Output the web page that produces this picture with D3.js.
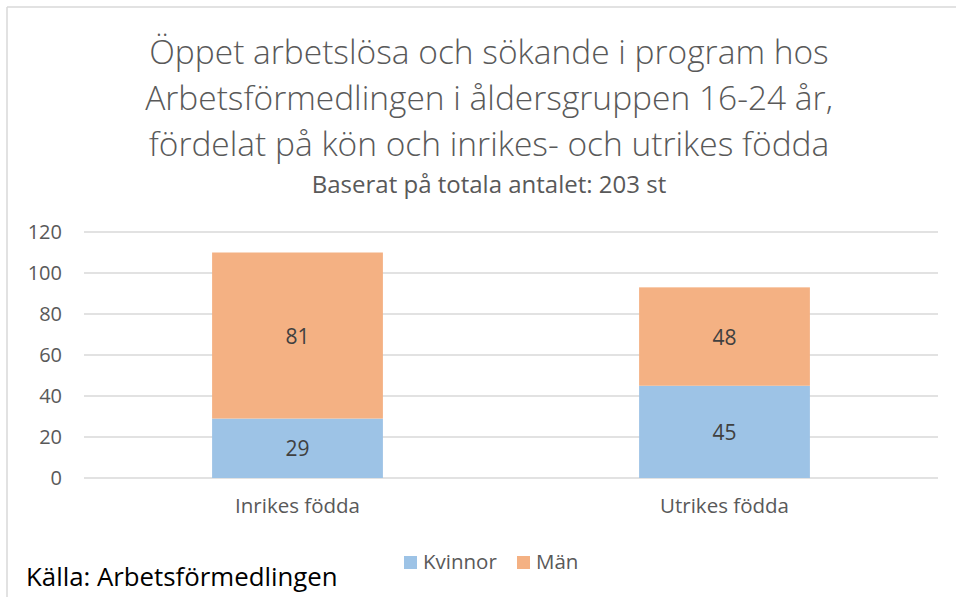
<!DOCTYPE html>
<html><head><meta charset="utf-8">
<script src="https://cdn.jsdelivr.net/npm/d3@7"></script>
<style>body{margin:0;background:#fff}svg{display:block}</style>
</head><body>
<script>
const categories = ["Inrikes födda", "Utrikes födda"];
const seriesNames = ["Kvinnor", "Män"];
const kvinnor = [29, 45];
const man = [81, 48];
const yTicks = [0, 20, 40, 60, 80, 100, 120];
const titleLines = ["Öppet arbetslösa och sökande i program hos", "Arbetsförmedlingen i åldersgruppen 16-24 år,", "fördelat på kön och inrikes- och utrikes födda"];
const subtitle = "Baserat på totala antalet: 203 st";
const source = "Källa: Arbetsförmedlingen";
const colors = ["#9DC3E6", "#F4B183"];

const W = 956, H = 597;
const svg = d3.select("body").append("svg").attr("width", W).attr("height", H);
const font = "'Open Sans', 'Liberation Sans', sans-serif";

// frame
svg.append("line").attr("x1", 7).attr("x2", W).attr("y1", 7).attr("y2", 7).attr("stroke", "#d9d9d9").attr("stroke-width", 1.5);
svg.append("line").attr("x1", 7).attr("x2", 7).attr("y1", 7).attr("y2", H).attr("stroke", "#d9d9d9").attr("stroke-width", 1.5);

// title
svg.append("g").selectAll("text").data(titleLines).join("text")
  .attr("x", 489).attr("y", (d, i) => 64 + i * 46)
  .attr("text-anchor", "middle").attr("font-family", font).attr("font-weight", 300)
  .attr("font-size", 33.5).attr("fill", "#595959").text(d => d);
svg.append("text").attr("x", 489).attr("y", 193).attr("text-anchor", "middle")
  .attr("font-family", font).attr("font-size", 24).attr("fill", "#595959").text(subtitle);

const x = d3.scaleBand().domain(categories).range([84, 938]).paddingInner(0.6).paddingOuter(0.3);
const y = d3.scaleLinear().domain([0, 120]).range([478, 232]);

// grid
svg.append("g").selectAll("line").data(yTicks).join("line")
  .attr("x1", 84).attr("x2", 938).attr("y1", d => y(d)).attr("y2", d => y(d))
  .attr("stroke", "#d9d9d9").attr("stroke-width", 1.3);

// y axis
const yAxis = svg.append("g").attr("transform", "translate(84,0)")
  .call(d3.axisLeft(y).tickValues(yTicks).tickSize(0).tickPadding(22));
yAxis.select(".domain").remove();
yAxis.selectAll("text").attr("font-family", font).attr("font-size", 20).attr("fill", "#595959");

// x axis
const xAxis = svg.append("g").attr("transform", "translate(0,478)")
  .call(d3.axisBottom(x).tickSize(0).tickPadding(20));
xAxis.select(".domain").remove();
xAxis.selectAll("text").attr("font-family", font).attr("font-size", 20.5).attr("fill", "#595959");

// stacked data
const rows = categories.map((c, i) => ({cat: c, Kvinnor: kvinnor[i], "Män": man[i]}));
const stack = d3.stack().keys(seriesNames)(rows);
const g = svg.append("g");
stack.forEach((s, si) => {
  g.append("g").selectAll("rect").data(s).join("rect")
    .attr("x", d => x(d.data.cat)).attr("width", x.bandwidth())
    .attr("y", d => y(d[1])).attr("height", d => y(d[0]) - y(d[1]))
    .attr("fill", colors[si]);
  g.append("g").selectAll("text").data(s).join("text")
    .attr("x", d => x(d.data.cat) + x.bandwidth() / 2)
    .attr("y", d => (y(d[0]) + y(d[1])) / 2 + 8)
    .attr("text-anchor", "middle").attr("font-family", font).attr("font-size", 21)
    .attr("fill", "#404040").text(d => d[1] - d[0]);
});

// legend
const leg = svg.append("g");
const legX = [404, 517];
seriesNames.forEach((n, i) => {
  leg.append("rect").attr("x", legX[i]).attr("y", 556).attr("width", 13).attr("height", 13).attr("fill", colors[i]);
  leg.append("text").attr("x", legX[i] + 19).attr("y", 569).attr("font-family", font).attr("font-size", 20.5)
    .attr("fill", "#595959").text(n);
});

// source
svg.append("text").attr("x", 26).attr("y", 586).attr("font-family", font).attr("font-size", 25.8)
  .attr("fill", "#000").text(source);
</script>
</body></html>
